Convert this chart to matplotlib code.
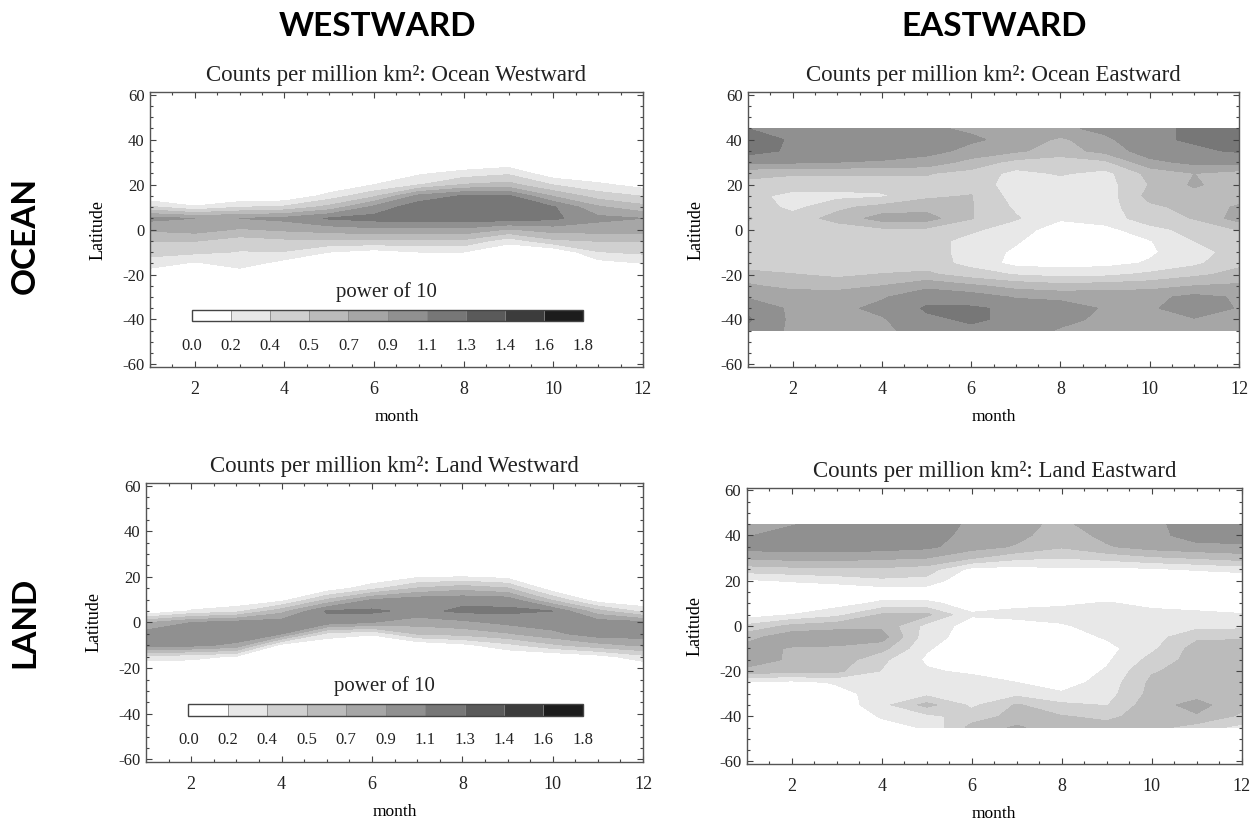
import numpy as np
import matplotlib
matplotlib.use("Agg")
import matplotlib.pyplot as plt
from matplotlib.colors import ListedColormap, BoundaryNorm
from matplotlib.cm import ScalarMappable
from matplotlib.ticker import MultipleLocator

plt.rcParams['font.family'] = 'Liberation Serif'
plt.rcParams['axes.unicode_minus'] = False
plt.rcParams['text.color'] = '#222222'
plt.rcParams['xtick.color'] = '#444444'
plt.rcParams['ytick.color'] = '#444444'
plt.rcParams['xtick.labelcolor'] = '#222222'
plt.rcParams['ytick.labelcolor'] = '#222222'

# grid of the data: month x latitude
months = [1, 2, 3, 4, 5, 6, 7, 8, 9, 10, 11, 12]
lats = [-45, -40, -35, -30, -25, -20, -15, -10, -5, 0, 5, 10, 15, 20, 25, 30, 35, 40, 45]

# contour levels (power of 10) and their labels
levels = [0.0, 0.18, 0.36, 0.54, 0.72, 0.90, 1.08, 1.26, 1.44, 1.62, 1.80]
level_labels = ['0.0', '0.2', '0.4', '0.5', '0.7', '0.9', '1.1', '1.3', '1.4', '1.6', '1.8']
gray_shades = ['#ffffff', '#e8e8e8', '#d0d0d0', '#bbbbbb', '#a6a6a6',
               '#909090', '#777777', '#5a5a5a', '#3c3c3c', '#1c1c1c']

# rows: latitude -45 .. 45, columns: month 1 .. 12
ocean_west = [
    [0] * 12,
    [0] * 12,
    [0] * 12,
    [0] * 12,
    [0] * 12,
    [0.05, 0, 0.05, 0, 0, 0, 0, 0, 0, 0, 0, 0],
    [0.28, 0.15, 0.28, 0.10, 0, 0, 0, 0, 0, 0, 0.10, 0.18],
    [0.42, 0.40, 0.35, 0.35, 0.18, 0.10, 0.18, 0.18, 0, 0, 0.35, 0.40],
    [0.55, 0.55, 0.45, 0.50, 0.50, 0.50, 0.50, 0.50, 0.25, 0.50, 0.55, 0.55],
    [0.75, 0.80, 0.70, 0.75, 0.80, 0.85, 0.85, 0.85, 0.70, 0.80, 0.80, 0.80],
    [0.95, 0.90, 0.90, 0.95, 1.10, 1.15, 1.18, 1.18, 1.18, 1.12, 0.95, 0.90],
    [0.40, 0.20, 0.35, 0.40, 0.60, 0.95, 1.20, 1.22, 1.22, 1.10, 0.75, 0.60],
    [0, 0, 0, 0, 0.25, 0.50, 0.95, 1.10, 1.10, 0.70, 0.45, 0.35],
    [0, 0, 0, 0, 0, 0.18, 0.35, 0.55, 0.60, 0.35, 0.22, 0.10],
    [0, 0, 0, 0, 0, 0, 0.15, 0.25, 0.33, 0.05, 0, 0],
    [0, 0, 0, 0, 0, 0, 0, 0, 0.05, 0, 0, 0],
    [0] * 12,
    [0] * 12,
    [0] * 12,
]

ocean_east = [
    [1.05, 0.86, 0.85, 0.85, 1.00, 1.05, 1.00, 0.88, 0.85, 0.85, 0.85, 0.86],
    [1.10, 0.86, 0.85, 0.88, 1.05, 1.10, 1.05, 0.95, 0.86, 0.86, 0.88, 0.88],
    [1.05, 0.86, 0.85, 0.95, 1.10, 1.10, 1.05, 1.00, 0.88, 0.86, 1.05, 0.88],
    [0.88, 0.85, 0.82, 0.88, 1.02, 1.00, 0.88, 0.85, 0.85, 0.85, 0.95, 0.88],
    [0.75, 0.65, 0.65, 0.72, 0.85, 0.75, 0.65, 0.60, 0.62, 0.65, 0.72, 0.75],
    [0.60, 0.55, 0.50, 0.55, 0.58, 0.45, 0.35, 0.30, 0.32, 0.40, 0.50, 0.60],
    [0.45, 0.42, 0.38, 0.42, 0.45, 0.30, 0.12, 0.10, 0.12, 0.20, 0.32, 0.50],
    [0.45, 0.45, 0.42, 0.45, 0.45, 0.28, 0.15, 0.05, 0.05, 0.15, 0.30, 0.42],
    [0.45, 0.45, 0.45, 0.45, 0.45, 0.28, 0.20, 0.05, 0.05, 0.17, 0.36, 0.45],
    [0.50, 0.45, 0.45, 0.50, 0.50, 0.40, 0.25, 0.10, 0.12, 0.30, 0.42, 0.55],
    [0.55, 0.45, 0.60, 0.80, 0.80, 0.55, 0.38, 0.20, 0.27, 0.45, 0.55, 0.80],
    [0.50, 0.30, 0.50, 0.60, 0.65, 0.55, 0.33, 0.27, 0.28, 0.50, 0.60, 0.75],
    [0.42, 0.30, 0.30, 0.33, 0.50, 0.55, 0.28, 0.26, 0.26, 0.60, 0.65, 0.62],
    [0.50, 0.45, 0.45, 0.45, 0.50, 0.45, 0.28, 0.28, 0.28, 0.55, 0.75, 0.60],
    [0.58, 0.56, 0.56, 0.56, 0.55, 0.48, 0.30, 0.38, 0.30, 0.60, 0.72, 0.65],
    [0.95, 0.93, 0.90, 0.88, 0.84, 0.65, 0.48, 0.44, 0.50, 0.85, 0.95, 0.95],
    [1.15, 1.05, 1.02, 1.00, 0.95, 0.86, 0.75, 0.64, 0.78, 1.00, 1.05, 1.10],
    [1.20, 1.05, 1.05, 1.02, 1.00, 0.92, 0.86, 0.68, 0.86, 1.05, 1.10, 1.18],
    [1.08, 1.05, 1.05, 1.00, 0.92, 0.88, 0.88, 0.86, 0.95, 1.05, 1.10, 1.22],
]

land_west = [
    [0] * 12,
    [0] * 12,
    [0] * 12,
    [0] * 12,
    [0] * 12,
    [0] * 12,
    [0.28, 0.25, 0.15, 0, 0, 0, 0, 0, 0, 0, 0.10, 0.30],
    [0.95, 0.95, 0.85, 0.10, 0, 0, 0, 0.12, 0.30, 0.50, 0.65, 0.75],
    [1.00, 1.05, 1.05, 0.90, 0.30, 0.20, 0.55, 0.60, 0.70, 0.85, 1.00, 1.00],
    [0.70, 0.90, 0.98, 1.00, 1.00, 0.90, 0.80, 0.85, 0.95, 1.00, 1.00, 0.95],
    [0, 0.20, 0.30, 0.65, 1.10, 1.12, 1.02, 1.12, 1.12, 1.08, 0.60, 0.30],
    [0, 0, 0, 0.10, 0.55, 0.90, 1.00, 1.02, 1.00, 0.50, 0.05, 0],
    [0, 0, 0, 0, 0.05, 0.30, 0.55, 0.65, 0.55, 0.05, 0, 0],
    [0, 0, 0, 0, 0, 0, 0.15, 0.18, 0.12, 0, 0, 0],
    [0] * 12,
    [0] * 12,
    [0] * 12,
    [0] * 12,
    [0] * 12,
]

land_east = [
    [0, 0, 0, 0.10, 0.20, 0.60, 0.75, 0.60, 0.60, 0.60, 0.45, 0.30],
    [0, 0, 0, 0.20, 0.30, 0.45, 0.60, 0.55, 0.50, 0.62, 0.70, 0.50],
    [0, 0, 0.05, 0.30, 0.60, 0.32, 0.56, 0.40, 0.35, 0.65, 0.78, 0.60],
    [0, 0, 0.12, 0.25, 0.30, 0.28, 0.30, 0.20, 0.28, 0.60, 0.65, 0.62],
    [0.15, 0.12, 0.20, 0.30, 0.28, 0.25, 0.18, 0.10, 0.25, 0.58, 0.62, 0.62],
    [0.65, 0.60, 0.58, 0.35, 0.20, 0.15, 0.12, 0.05, 0.20, 0.52, 0.62, 0.62],
    [0.85, 0.68, 0.65, 0.40, 0.15, 0.10, 0.05, 0.05, 0.15, 0.42, 0.62, 0.62],
    [0.80, 0.70, 0.68, 0.60, 0.20, 0.05, 0, 0, 0.12, 0.32, 0.62, 0.62],
    [0.65, 0.85, 0.85, 0.80, 0.25, 0.10, 0.05, 0.08, 0.20, 0.28, 0.50, 0.52],
    [0.40, 0.58, 0.65, 0.68, 0.30, 0.10, 0.08, 0.15, 0.28, 0.30, 0.30, 0.30],
    [0.08, 0.18, 0.30, 0.56, 0.58, 0.20, 0.25, 0.28, 0.30, 0.25, 0.22, 0.20],
    [0, 0, 0.10, 0.22, 0.22, 0.10, 0.12, 0.14, 0.20, 0.12, 0.10, 0],
    [0, 0, 0, 0.05, 0.05, 0, 0, 0, 0, 0, 0, 0],
    [0.15, 0.20, 0.25, 0.32, 0.30, 0, 0, 0, 0, 0, 0, 0],
    [0.45, 0.48, 0.50, 0.50, 0.45, 0.12, 0.10, 0.15, 0.12, 0.15, 0.20, 0.25],
    [0.74, 0.78, 0.78, 0.75, 0.72, 0.55, 0.40, 0.36, 0.42, 0.50, 0.55, 0.62],
    [0.98, 1.00, 1.00, 0.98, 0.94, 0.80, 0.70, 0.56, 0.70, 0.80, 0.85, 0.86],
    [0.88, 1.02, 1.02, 1.02, 0.98, 0.84, 0.77, 0.62, 0.77, 0.84, 0.98, 1.00],
    [0.82, 0.88, 1.02, 1.02, 1.02, 0.86, 0.77, 0.68, 0.82, 0.86, 0.98, 1.02],
]

panels = [
    (ocean_west, 'Ocean Westward', [0.1192, 0.5539, 0.3919, 0.3336], True),
    (ocean_east, 'Ocean Eastward', [0.5946, 0.5539, 0.3903, 0.3336], False),
    (land_west, 'Land Westward', [0.1161, 0.0734, 0.3951, 0.3387], True),
    (land_east, 'Land Eastward', [0.5936, 0.0709, 0.3935, 0.3354], False),
]

cmap = ListedColormap(gray_shades)
norm = BoundaryNorm(levels, cmap.N)

fig = plt.figure(figsize=(12.58, 8.22), dpi=100)

for grid, name, rect, with_bar in panels:
    ax = fig.add_axes(rect)
    ax.contourf(months, lats, np.array(grid), levels=levels, colors=gray_shades)
    ax.set_xlim(1, 12)
    ax.set_ylim(-61, 61)
    ax.xaxis.set_major_locator(MultipleLocator(2))
    ax.xaxis.set_minor_locator(MultipleLocator(0.5))
    ax.yaxis.set_major_locator(MultipleLocator(20))
    ax.yaxis.set_minor_locator(MultipleLocator(5))
    ax.tick_params(which='both', direction='in', top=True, right=True, width=0.8)
    ax.tick_params(which='major', length=4)
    ax.tick_params(which='minor', length=2.2)
    ax.tick_params(axis='x', labelsize=13, pad=10)
    ax.tick_params(axis='y', labelsize=12, pad=4)
    for sp in ax.spines.values():
        sp.set_color('#555555')
        sp.set_linewidth(1.0)
    ax.set_title('Counts per million km\u00b2: ' + name, fontsize=16.5, pad=8)
    ax.set_xlabel('month', fontsize=12.5, labelpad=8)
    ax.set_ylabel('Latitude', fontsize=13, labelpad=11)

    if with_bar:
        cax = ax.inset_axes([0.085, 0.165, 0.794, 0.043])
        cbar = fig.colorbar(ScalarMappable(norm=norm, cmap=cmap), cax=cax,
                            orientation='horizontal', drawedges=True)
        cbar.set_ticks(levels, labels=level_labels)
        cbar.ax.tick_params(length=0, labelsize=12, pad=12)
        cbar.outline.set_edgecolor('#444444')
        cbar.outline.set_linewidth(1.0)
        cbar.dividers.set_color('#888888')
        cbar.dividers.set_linewidth(0.6)
        ax.text(0.48, 0.255, 'power of 10', transform=ax.transAxes,
                ha='center', va='baseline', fontsize=15)

# column and row headers
hdr = dict(family='Lato', weight='bold', fontsize=24, color='black',
           ha='center', va='center')
fig.text(377 / 1258, 1 - 27 / 822, 'WESTWARD', **hdr)
fig.text(994 / 1258, 1 - 27 / 822, 'EASTWARD', **hdr)
fig.text(25 / 1258, 1 - 235 / 822, 'OCEAN', rotation=90, **hdr)
fig.text(25 / 1258, 1 - 622 / 822, 'LAND', rotation=90, **hdr)

fig.savefig('out.png', dpi=100)
